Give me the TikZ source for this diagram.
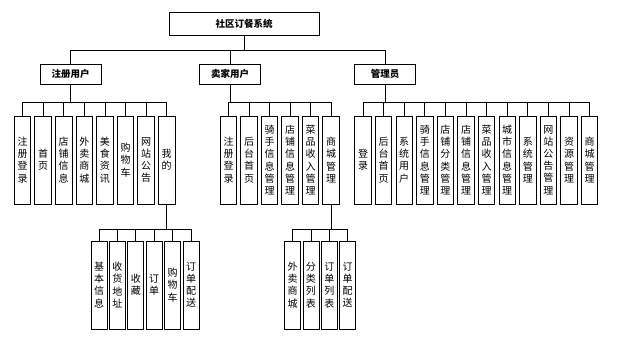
\documentclass[tikz,border=0pt]{standalone}
\usepackage{fontspec}
\newfontfamily\cjk{Noto Sans CJK SC}
\tikzset{
	title box/.style={draw=black, line width=0.8pt, minimum width=150pt, minimum height=23pt, inner sep=0pt, font=\cjk\bfseries\fontsize{9.5}{11}\selectfont},
	role box/.style={draw=black, line width=0.8pt, minimum width=61pt, minimum height=20pt, inner sep=0pt, font=\cjk\bfseries\fontsize{9.5}{11}\selectfont},
	leaf box/.style={draw=black, line width=0.8pt, minimum width=16.5pt, minimum height=88pt, inner sep=0pt, align=center, font=\cjk\fontsize{10}{12.2}\selectfont},
	sub box/.style={leaf box, minimum width=16pt},
	branch/.style={line width=0.7pt, black},
}

\begin{document}
\begin{tikzpicture}[x=1pt, y=-1pt]
				\useasboundingbox (0,0) rectangle (617,339);
				\node[title box] (sys) at (244,23.5) {社区订餐系统};
				\node[role box] (user) at (70.5,74) {注册用户};
				\node[role box] (seller) at (230,74) {卖家用户};
				\node[role box] (admin) at (385,74) {管理员};
				\foreach \r in {user,seller,admin}
					\draw[branch] (sys.south) -- ++(0,15) -| (\r.north);
				% registered user
				\foreach \t [count=\i] in {{注\\册\\登\\录},{首\\页},{店\\铺\\信\\息},{外\\卖\\商\\城},{美\\食\\资\\讯},{购\\物\\车},{网\\站\\公\\告},{我\\的}}{
					\node[leaf box] (u\i) at ({22.5+20.6*(\i-1)},160) {\t};
					\draw[branch] (user.south) -- ++(0,18) -| (u\i.north);
				}
				\foreach \t [count=\i] in {{基\\本\\信\\息},{收\\货\\地\\址},{收\\藏},{订\\单},{购\\物\\车},{订\\单\\配\\送}}{
					\node[sub box] (m\i) at ({99+18.4*(\i-1)},285) {\t};
					\draw[branch] (u8.south) -- ++(0,25) -| (m\i.north);
				}
				% seller
				\foreach \t [count=\i] in {{注\\册\\登\\录},{后\\台\\首\\页},{骑\\手\\信\\息\\管\\理},{店\\铺\\信\\息\\管\\理},{菜\\品\\收\\入\\管\\理},{商\\城\\管\\理}}{
					\node[leaf box] (s\i) at ({228.5+20.5*(\i-1)},160) {\t};
					\draw[branch] (seller.south) -- ++(0,18) -| (s\i.north);
				}
				\foreach \t [count=\i] in {{外\\卖\\商\\城},{分\\类\\列\\表},{订\\单\\列\\表},{订\\单\\配\\送}}{
					\node[sub box] (c\i) at ({292.5+18.4*(\i-1)},285) {\t};
					\draw[branch] (s6.south) -- ++(0,25) -| (c\i.north);
				}
				% admin
				\foreach \t [count=\i] in {{登\\录},{后\\台\\首\\页},{系\\统\\用\\户},{骑\\手\\信\\息\\管\\理},{店\\铺\\分\\类\\管\\理},{店\\铺\\信\\息\\管\\理},{菜\\品\\收\\入\\管\\理},{城\\市\\信\\息\\管\\理},{系\\统\\管\\理},{网\\站\\公\\告\\管\\理},{资\\源\\管\\理},{商\\城\\管\\理}}{
					\node[leaf box] (a\i) at ({363+20.6*(\i-1)},160) {\t};
					\draw[branch] (admin.south) -- ++(0,18) -| (a\i.north);
				}
			\end{tikzpicture}
\end{document}
